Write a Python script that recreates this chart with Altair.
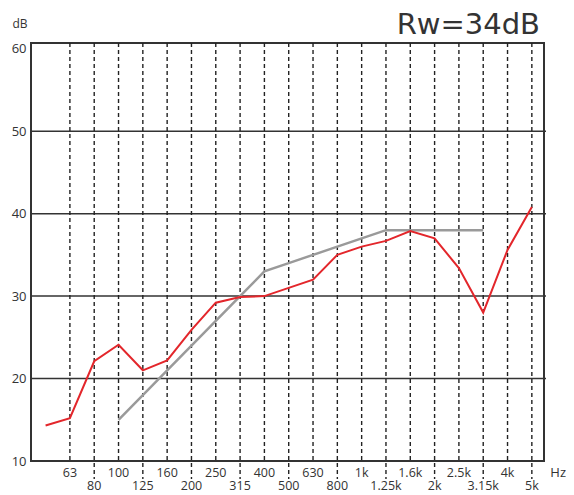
import altair as alt
import pandas as pd

freq_labels = ["50", "63", "80", "100", "125", "160", "200", "250", "315", "400",
               "500", "630", "800", "1k", "1.25k", "1.6k", "2k", "2.5k", "3.15k", "4k", "5k"]
measured = [14.3, 15.2, 22.1, 24.1, 21.0, 22.2, 25.9, 29.2, 29.9, 30.0,
            31.0, 32.0, 35.0, 36.0, 36.7, 37.9, 37.0, 33.4, 28.0, 35.6, 40.8]
ref_labels = ["100", "125", "160", "200", "250", "315", "400", "500", "630", "800",
              "1k", "1.25k", "1.6k", "2k", "2.5k", "3.15k"]
reference = [15, 18, 21, 24, 27, 30, 33, 34, 35, 36, 37, 38, 38, 38, 38, 38]
y_ticks = [10, 20, 30, 40, 50, 60]
grid_levels = [20, 30, 40, 50]
rating = "Rw=34dB"
y_unit = "dB"
x_unit = "Hz"

W, H = 513, 418
FONT = "Open Sans"
TXT = "#333333"
ROW1, ROW2 = H + 12, H + 25

idx = {f: i for i, f in enumerate(freq_labels)}
meas_df = pd.DataFrame({"i": list(range(len(freq_labels))), "f": freq_labels, "v": measured})
ref_df = pd.DataFrame({"i": [idx[f] for f in ref_labels], "f": ref_labels, "v": reference})
lab_df = pd.DataFrame({"i": list(range(1, len(freq_labels))), "f": freq_labels[1:]})
lab_df["row"] = ["top" if i % 2 == 1 else "bottom" for i in lab_df["i"]]
grid_df = pd.DataFrame({"v": grid_levels})

xs = alt.Scale(domain=[-0.6, 20.5], nice=False, zero=False)
ys = alt.Scale(domain=[10, 60.7], nice=False, zero=False)

base_y_axis = alt.Axis(values=y_ticks, ticks=False, domain=False, grid=False, title=None,
                       labelPadding=5, labelFontSize=13, labelColor=TXT, labelFont=FONT)

grid = alt.Chart(grid_df).mark_rule(color="#333333", strokeWidth=1.5).encode(
    y=alt.Y("v:Q", scale=ys, axis=base_y_axis),
    x=alt.value(0), x2=alt.value(W + 2))

dash_top = alt.Chart(lab_df[lab_df["row"] == "top"]).mark_rule(
    color="#222222", strokeWidth=1.4, strokeDash=[4, 3]).encode(
    x=alt.X("i:Q", scale=xs, axis=None), y=alt.value(0), y2=alt.value(H))
dash_bot = alt.Chart(lab_df[lab_df["row"] == "bottom"]).mark_rule(
    color="#222222", strokeWidth=1.4, strokeDash=[4, 3]).encode(
    x=alt.X("i:Q", scale=xs, axis=None), y=alt.value(0), y2=alt.value(H + 18))

ref_line = alt.Chart(ref_df).mark_line(color="#9a9a9a", strokeWidth=2.5).encode(
    x=alt.X("i:Q", scale=xs, axis=None), y=alt.Y("v:Q", scale=ys, axis=base_y_axis))
meas_line = alt.Chart(meas_df).mark_line(color="#e3262b", strokeWidth=2).encode(
    x=alt.X("i:Q", scale=xs, axis=None), y=alt.Y("v:Q", scale=ys, axis=base_y_axis))

lab_top = alt.Chart(lab_df[lab_df["row"] == "top"]).mark_text(
    font=FONT, fontSize=12.5, color=TXT, baseline="middle").encode(
    x=alt.X("i:Q", scale=xs, axis=None), y=alt.value(ROW1), text="f:N")
lab_bot = alt.Chart(lab_df[lab_df["row"] == "bottom"]).mark_text(
    font=FONT, fontSize=12.5, color=TXT, baseline="middle").encode(
    x=alt.X("i:Q", scale=xs, axis=None), y=alt.value(ROW2), text="f:N")

hz = alt.Chart(pd.DataFrame({"t": [x_unit]})).mark_text(
    font=FONT, fontSize=13, color=TXT, align="right", baseline="middle").encode(
    x=alt.value(535), y=alt.value(ROW1), text="t:N")
db = alt.Chart(pd.DataFrame({"t": [y_unit]})).mark_text(
    font=FONT, fontSize=12, color=TXT, align="center", baseline="middle").encode(
    x=alt.value(-11), y=alt.value(-19), text="t:N")
title = alt.Chart(pd.DataFrame({"t": [rating]})).mark_text(
    font="DejaVu Sans", fontSize=29, color=TXT, align="right", baseline="middle").encode(
    x=alt.value(509), y=alt.value(-18), text="t:N")

chart = alt.layer(grid, dash_top, dash_bot, ref_line, meas_line,
                  lab_top, lab_bot, hz, db, title).properties(
    width=W, height=H,
    autosize=alt.AutoSizeParams(type="none"),
    padding={"left": 23, "top": 35, "right": 22, "bottom": 34},
    background="white",
).configure_view(stroke="#333333", strokeWidth=2)

chart.save("out.html", embed_options={"renderer": "svg", "actions": False})
